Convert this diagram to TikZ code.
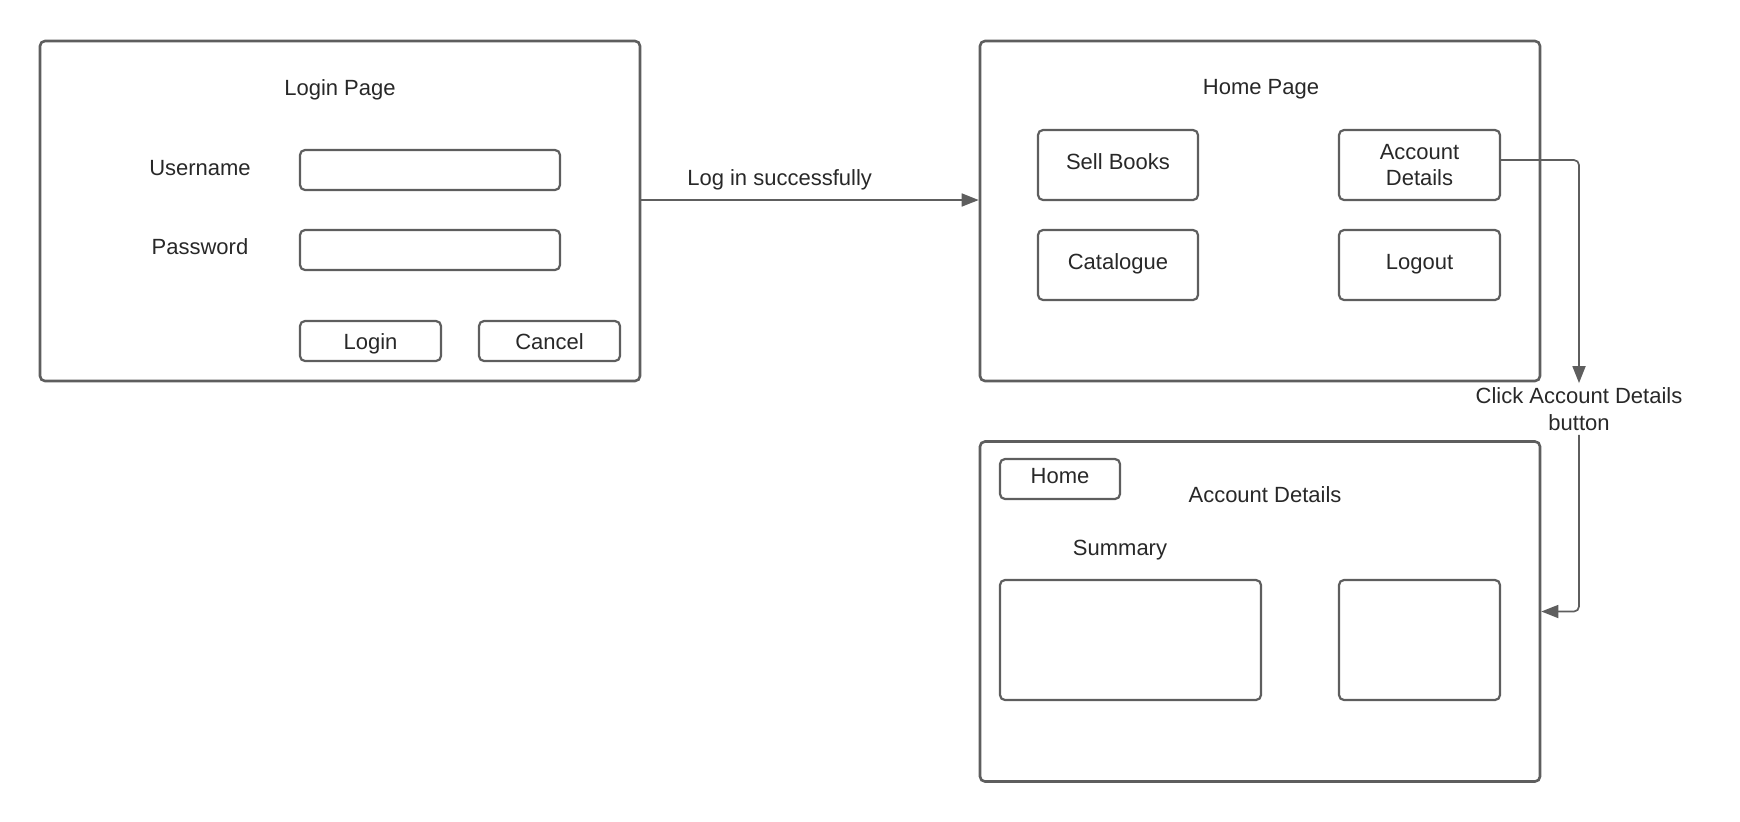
\documentclass[tikz,border=0pt]{standalone}
\usepackage{fontspec}
\setmainfont{Liberation Sans}
\usetikzlibrary{arrows.meta}
\usetikzlibrary{calc}
\definecolor{linie}{RGB}{94,94,94}
\definecolor{schrift}{RGB}{40,40,40}

\begin{document}
\begin{tikzpicture}[x=0.5pt,y=-0.5pt,linie,font=\fontsize{11}{13.4}\selectfont,
	frame/.style={draw,line width=1.3pt,rounded corners=2.5pt,minimum width=#1,minimum height=170pt,inner sep=0pt},
	box/.style={draw,line width=1.1pt,rounded corners=2.5pt,text=schrift,align=center,inner sep=0pt},
	one/.style={text height=8pt,text depth=4pt},
	btn/.style={text height=10pt,text depth=1.2pt},
	txt/.style={text=schrift,align=center},
	pfeil/.style={line width=0.85pt,-{Triangle[length=8.5pt,width=6.5pt]}}]
	\useasboundingbox (0,0) rectangle (1740,821);
	% login page
	\node[frame=300pt] (LP) at (340,211) {};
	\node[txt] (LPt) at (340,90) {Login Page};
	\node[txt] (U) at (200,168) {Username};
	\node[txt] (P) at (200,247) {Password};
	\node[box,minimum width=130pt,minimum height=20pt] (UF) at (430,170) {};
	\node[box,minimum width=130pt,minimum height=20pt] (PF) at (430,250) {};
	\node[box,btn,minimum width=70.5pt,minimum height=20pt] (LB) at (370.5,341) {Login};
	\node[box,btn,minimum width=70.5pt,minimum height=20pt] (CB) at (549.5,341) {Cancel};
	% home page
	\node[frame=280pt] (HP) at (1260,211) {};
	\node[txt] (HPt) at (1261,89) {Home Page};
	\node[box,one,minimum width=80pt,minimum height=35pt] (SB) at (1118,165) {Sell Books};
	\node[box,minimum width=80.5pt,minimum height=35pt] (AD) at (1419.5,165) {Account\\Details};
	\node[box,one,minimum width=80pt,minimum height=35pt] (CA) at (1118,265) {Catalogue};
	\node[box,one,minimum width=80.5pt,minimum height=35pt] (LO) at (1419.5,265) {Logout};
	% account details
	\node[frame=280pt] (AP) at (1260,611.5) {};
	\node[box,one,minimum width=60pt,minimum height=20pt] (HB) at (1060,479) {Home};
	\node[txt] (APt) at (1265,495) {Account Details};
	\node[txt] (S) at (1120,550) {Summary};
	\node[box,minimum width=130.5pt,minimum height=60pt] (SF) at (1130.5,640) {};
	\node[box,minimum width=80.5pt,minimum height=60pt] (RF) at (1419.5,640) {};

	\draw[pfeil] ([yshift=5.5pt]LP.east) -- node[txt,above,pos=0.41,yshift=1pt] {Log in successfully} ([yshift=5.5pt]HP.west);
	\node[txt,inner sep=2pt] (KL) at (1579,409) {Click Account Details\\button};
	\draw[pfeil,rounded corners=2.5pt] ([yshift=2.5pt]AD.east) -| (KL.north);
	\draw[pfeil,rounded corners=2.5pt] (KL.south) |- (AP.east);
\end{tikzpicture}
\end{document}
